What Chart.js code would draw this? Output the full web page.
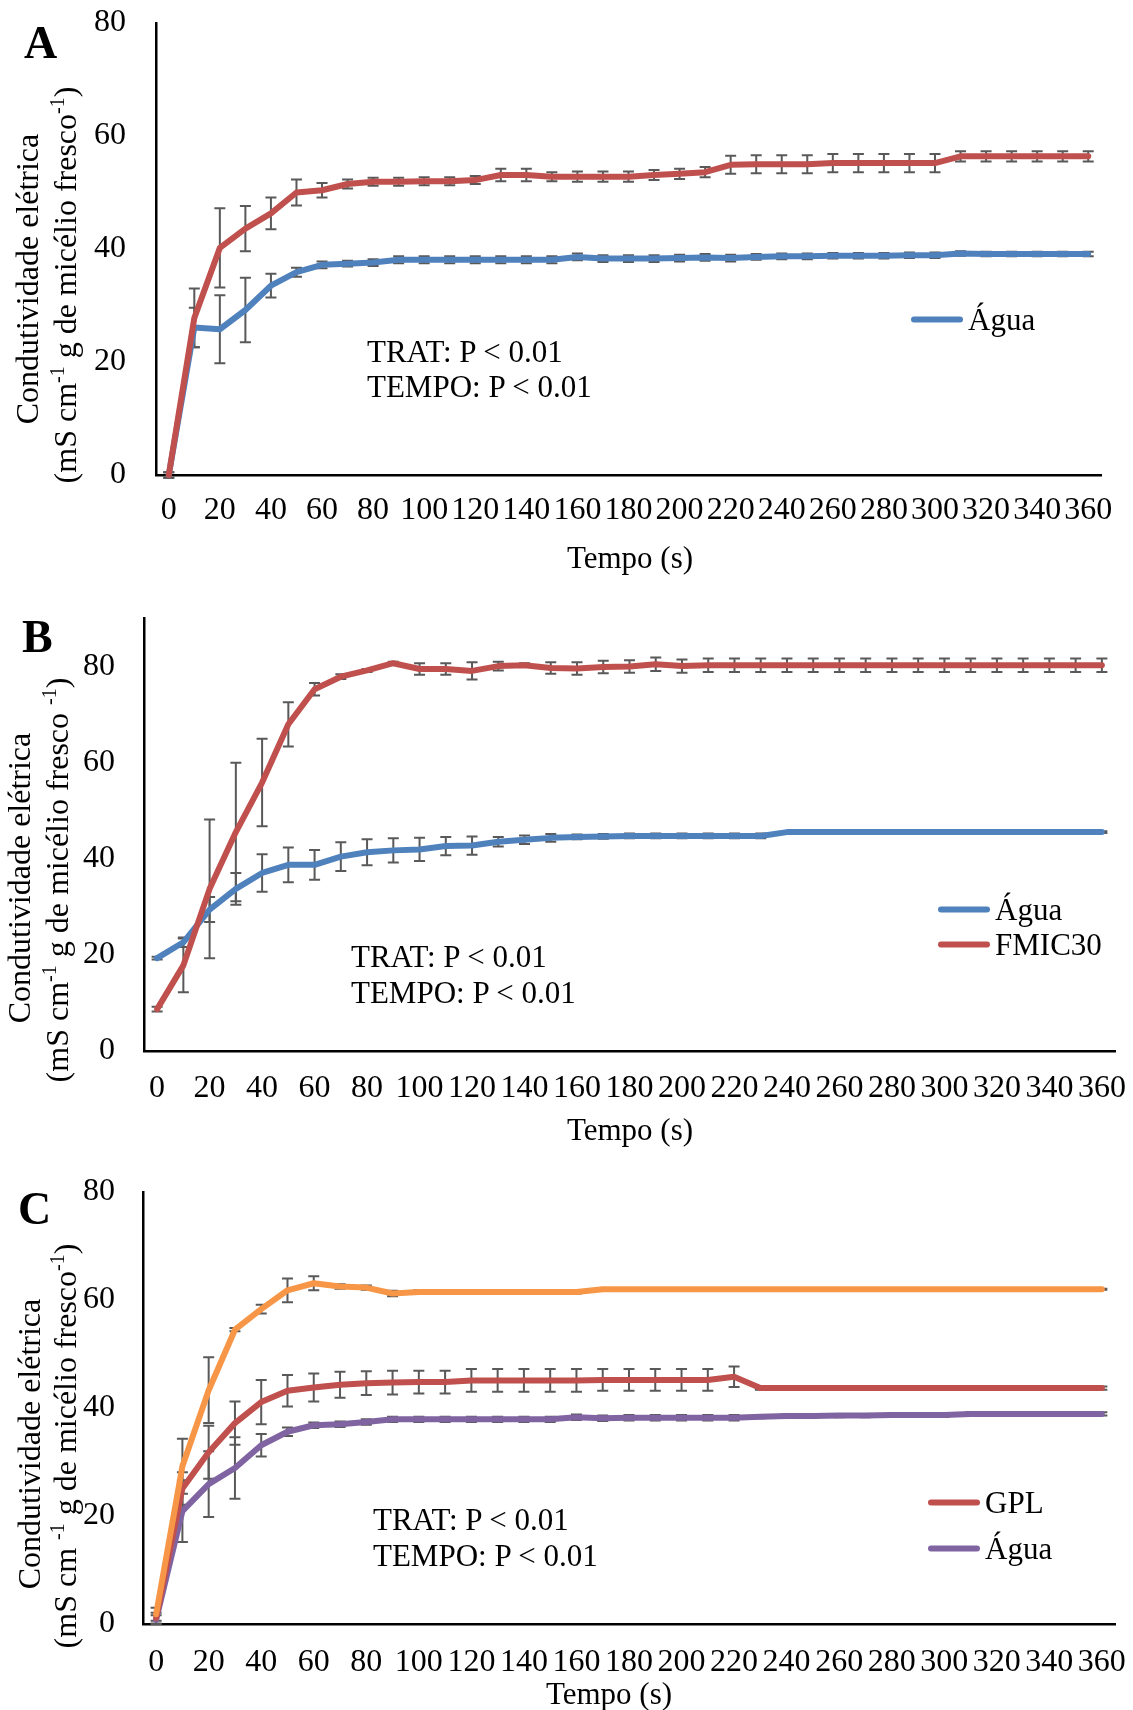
<!DOCTYPE html>
<html lang="pt">
<head>
<meta charset="utf-8">
<title>Condutividade elétrica</title>
<script src="https://cdn.jsdelivr.net/npm/chart.js@4.4.0/dist/chart.umd.min.js"></script>
<style>
  body { margin: 0; background: #fff; font-family: "Liberation Serif", "Times New Roman", serif; color: #000; }
  #pagina { position: relative; width: 1133px; height: 1710px; overflow: hidden; }
  canvas { position: absolute; left: 0; }
  .txt { position: absolute; white-space: nowrap; font-size: 31px; line-height: 1; }
  .letra { position: absolute; font-weight: bold; font-size: 46px; line-height: 1; }
  .yt { position: absolute; white-space: nowrap; font-size: 32px; line-height: 1; transform: translate(-50%, -50%) rotate(-90deg); }
  .xt { position: absolute; white-space: nowrap; font-size: 31px; line-height: 1; transform: translate(-50%, -50%); }
  .leg { position: absolute; display: flex; align-items: center; font-size: 31px; line-height: 1; white-space: nowrap; transform: translateY(-50%); }
  .leg span { display: inline-block; width: 52px; height: 6px; border-radius: 3px; margin-right: 5px; }
  sup { font-size: 20px; line-height: 0; vertical-align: 0; position: relative; top: -12px; }
</style>
</head>
<body>
<div id="pagina">
  <canvas id="graficoA" width="1133" height="580" style="top:0px"></canvas>
  <canvas id="graficoB" width="1133" height="580" style="top:580px"></canvas>
  <canvas id="graficoC" width="1133" height="550" style="top:1160px"></canvas>

  <!-- A -->
  <div class="letra" style="left:24px; top:20px">A</div>
  <div class="yt" style="left:27px; top:279px">Condutividade elétrica</div>
  <div class="yt" style="left:65px; top:285px">(mS cm<sup>-1</sup> g de micélio fresco<sup>-1</sup>)</div>
  <div class="xt" style="left:630px; top:557px">Tempo (s)</div>
  <div class="txt" style="left:367px; top:336px">TRAT: P &lt; 0.01</div>
  <div class="txt" style="left:367px; top:371px">TEMPO: P &lt; 0.01</div>
  <div class="leg" style="left:911px; top:319px"><span style="background:#4F81BD"></span>Água</div>

  <!-- B -->
  <div class="letra" style="left:22px; top:614px">B</div>
  <div class="yt" style="left:19px; top:878px">Condutividade elétrica</div>
  <div class="yt" style="left:57px; top:880px">(mS cm<sup>-1</sup> g de micélio fresco <sup>-1</sup>)</div>
  <div class="xt" style="left:630px; top:1129px">Tempo (s)</div>
  <div class="txt" style="left:351px; top:941px">TRAT: P &lt; 0.01</div>
  <div class="txt" style="left:351px; top:977px">TEMPO: P &lt; 0.01</div>
  <div class="leg" style="left:938px; top:909px"><span style="background:#4F81BD"></span>Água</div>
  <div class="leg" style="left:938px; top:944px"><span style="background:#C0504D"></span>FMIC30</div>

  <!-- C -->
  <div class="letra" style="left:18px; top:1186px">C</div>
  <div class="yt" style="left:29px; top:1444px">Condutividade elétrica</div>
  <div class="yt" style="left:65px; top:1446px">(mS cm <sup>-1</sup> g de micélio fresco<sup>-1</sup>)</div>
  <div class="xt" style="left:609px; top:1693px">Tempo (s)</div>
  <div class="txt" style="left:373px; top:1504px">TRAT: P &lt; 0.01</div>
  <div class="txt" style="left:373px; top:1540px">TEMPO: P &lt; 0.01</div>
  <div class="leg" style="left:928px; top:1502px"><span style="background:#C0504D"></span>GPL</div>
  <div class="leg" style="left:928px; top:1548px"><span style="background:#8064A2"></span>Água</div>
</div>

<script>
const tempo = [
  0, 10, 20, 30, 40, 50, 60, 70, 80, 90, 100, 110, 120, 130, 140, 150, 160, 170, 180,
  190, 200, 210, 220, 230, 240, 250, 260, 270, 280, 290, 300, 310, 320, 330, 340, 350, 360,
];

// Painel A
const aTrat = [
  0, 27.8, 40.2, 43.6, 46.3, 50.0, 50.4, 51.5, 51.9, 51.9, 52.0, 52.0, 52.2, 53.1, 53.1,
  52.8, 52.8, 52.8, 52.8, 53.1, 53.3, 53.6, 54.9, 55.0, 55.0, 55.0, 55.2, 55.2, 55.2, 55.2,
  55.2, 56.4, 56.4, 56.4, 56.4, 56.4, 56.4,
];
const aTratErro = [
  0.5, 5.2, 7.0, 4.0, 2.8, 2.3, 1.3, 0.8, 0.7, 0.7, 0.7, 0.7, 0.7, 1.1, 1.1, 0.8, 0.9, 0.9,
  0.9, 0.9, 0.9, 0.9, 1.6, 1.6, 1.6, 1.6, 1.6, 1.6, 1.6, 1.6, 1.6, 0.9, 0.9, 0.9, 0.9, 0.9, 0.9,
];
const aAgua = [
  0, 26.1, 25.8, 29.2, 33.5, 35.9, 37.2, 37.4, 37.6, 38.1, 38.1, 38.1, 38.1, 38.1, 38.1,
  38.1, 38.6, 38.3, 38.3, 38.3, 38.4, 38.5, 38.4, 38.6, 38.7, 38.7, 38.8, 38.8, 38.8, 38.9,
  38.9, 39.2, 39.1, 39.1, 39.1, 39.1, 39.1,
];
const aAguaErro = [
  0.5, 3.5, 6.0, 5.7, 2.1, 0.8, 0.6, 0.5, 0.6, 0.6, 0.6, 0.6, 0.6, 0.6, 0.6, 0.6, 0.6, 0.6,
  0.6, 0.6, 0.6, 0.6, 0.6, 0.5, 0.5, 0.5, 0.5, 0.5, 0.5, 0.5, 0.5, 0.4, 0.4, 0.4, 0.4, 0.4, 0.4,
];

// Painel B
const bAgua = [
  19.3, 22.6, 29.4, 33.7, 37.0, 38.7, 38.7, 40.4, 41.3, 41.7, 41.9, 42.6, 42.7, 43.5, 43.9,
  44.3, 44.5, 44.6, 44.7, 44.7, 44.7, 44.7, 44.7, 44.7, 45.5, 45.5, 45.5, 45.5, 45.5, 45.5,
  45.5, 45.5, 45.5, 45.5, 45.5, 45.5, 45.5,
];
const bAguaErro = [
  0.3, 1.0, 2.6, 3.3, 3.9, 3.6, 3.1, 3.0, 2.7, 2.5, 2.4, 1.9, 1.9, 1.0, 0.9, 0.8, 0.5, 0.5,
  0.5, 0.5, 0.5, 0.5, 0.5, 0.5, 0.2, 0.2, 0.2, 0.2, 0.2, 0.2, 0.2, 0.2, 0.2, 0.2, 0.2, 0.2, 0.2,
];
const bFmic30 = [
  8.7, 17.8, 33.7, 45.5, 55.8, 67.9, 75.2, 77.8, 79.1, 80.6, 79.4, 79.4, 79.0, 80.0, 80.2,
  79.6, 79.5, 79.8, 79.9, 80.4, 80.0, 80.2, 80.2, 80.2, 80.2, 80.2, 80.2, 80.2, 80.2, 80.2,
  80.2, 80.2, 80.2, 80.2, 80.2, 80.2, 80.2,
];
const bFmic30Erro = [
  0.5, 5.6, 14.4, 14.4, 9.1, 4.6, 1.3, 0.5, 0.3, 0.3, 1.2, 1.2, 1.8, 0.9, 0.4, 1.2, 1.3, 1.3,
  1.3, 1.4, 1.4, 1.4, 1.4, 1.4, 1.4, 1.4, 1.4, 1.4, 1.4, 1.4, 1.4, 1.4, 1.4, 1.4, 1.4, 1.4, 1.4,
];

// Painel C
const cLaranja = [
  1.8, 29.2, 43.3, 54.5, 58.3, 61.8, 63.1, 62.5, 62.3, 61.2, 61.5, 61.5, 61.5, 61.5, 61.5,
  61.5, 61.5, 62.0, 62.0, 62.0, 62.0, 62.0, 62.0, 62.0, 62.0, 62.0, 62.0, 62.0, 62.0, 62.0,
  62.0, 62.0, 62.0, 62.0, 62.0, 62.0, 62.0,
];
const cLaranjaErro = [
  1.2, 5.1, 6.1, 0.3, 0.8, 2.2, 1.3, 0.4, 0.4, 0.5, 0.3, 0.3, 0.3, 0.3, 0.3, 0.3, 0.3, 0.1,
  0.1, 0.1, 0.1, 0.1, 0.1, 0.1, 0.1, 0.1, 0.1, 0.1, 0.1, 0.1, 0.1, 0.1, 0.1, 0.1, 0.1, 0.1, 0.1,
];
const cGpl = [
  1.1, 25.1, 31.8, 37.2, 41.1, 43.2, 43.8, 44.3, 44.6, 44.7, 44.8, 44.8, 45.1, 45.1, 45.1,
  45.1, 45.1, 45.2, 45.2, 45.2, 45.2, 45.2, 45.8, 43.7, 43.7, 43.7, 43.7, 43.7, 43.7, 43.7,
  43.7, 43.7, 43.7, 43.7, 43.7, 43.7, 43.7,
];
const cGplErro = [
  1.0, 3.0, 4.9, 4.0, 4.1, 2.9, 2.6, 2.4, 2.2, 2.2, 2.1, 2.1, 2.1, 2.1, 2.1, 2.1, 2.1, 2.0,
  2.0, 2.0, 2.0, 2.0, 1.9, 0.3, 0.3, 0.3, 0.3, 0.3, 0.3, 0.3, 0.3, 0.3, 0.3, 0.3, 0.3, 0.3, 0.3,
];
const cAgua = [
  0.8, 20.9, 25.9, 28.9, 33.1, 35.6, 36.8, 37.0, 37.4, 37.9, 37.9, 37.9, 37.9, 37.9, 37.9,
  37.9, 38.3, 38.1, 38.2, 38.2, 38.2, 38.2, 38.2, 38.4, 38.5, 38.5, 38.6, 38.6, 38.7, 38.7,
  38.7, 38.9, 38.9, 38.9, 38.9, 38.9, 38.9,
];
const cAguaErro = [
  0.8, 5.7, 6.1, 5.7, 2.1, 0.8, 0.5, 0.5, 0.5, 0.5, 0.5, 0.5, 0.5, 0.5, 0.5, 0.5, 0.5, 0.5,
  0.5, 0.5, 0.5, 0.5, 0.5, 0.3, 0.3, 0.3, 0.3, 0.3, 0.3, 0.3, 0.3, 0.3, 0.3, 0.3, 0.3, 0.3, 0.3,
];

const azul = "#4F81BD";
const vermelho = "#C0504D";
const laranja = "#F79646";
const roxo = "#8064A2";

Chart.defaults.font.family = '"Liberation Serif", "Times New Roman", serif';
Chart.defaults.color = "#000";

// barras de erro desenhadas antes das linhas (a linha cobre o traço vertical)
const barrasErro = {
  id: "barrasErro",
  beforeDatasetsDraw(chart) {
    const ctx = chart.ctx;
    const y = chart.scales.y;
    ctx.save();
    ctx.strokeStyle = "#595959";
    ctx.lineWidth = 2;
    chart.data.datasets.forEach((ds, i) => {
      const meta = chart.getDatasetMeta(i);
      meta.data.forEach((pt, j) => {
        const e = ds.erros[j];
        if (!e) return;
        const topo = y.getPixelForValue(ds.data[j] + e);
        const base = y.getPixelForValue(ds.data[j] - e);
        ctx.beginPath();
        ctx.moveTo(pt.x, topo);
        ctx.lineTo(pt.x, base);
        ctx.moveTo(pt.x - 5.5, topo);
        ctx.lineTo(pt.x + 5.5, topo);
        ctx.moveTo(pt.x - 5.5, base);
        ctx.lineTo(pt.x + 5.5, base);
        ctx.stroke();
      });
    });
    ctx.restore();
  },
};

function serie(label, data, erros, cor) {
  return {
    label: label,
    data: data,
    erros: erros,
    borderColor: cor,
    backgroundColor: cor,
    borderWidth: 6,
    pointRadius: 0,
    pointHoverRadius: 0,
    tension: 0,
    fill: false,
    borderJoinStyle: "round",
    borderCapStyle: "round",
    clip: false,
  };
}

function painel(id, datasets, yMax, caixa) {
  const ctx = document.getElementById(id).getContext("2d");
  return new Chart(ctx, {
    type: "line",
    data: { labels: tempo, datasets: datasets },
    options: {
      responsive: false,
      animation: false,
      events: [],
      layout: { padding: { top: caixa.top, right: caixa.right, left: 0, bottom: 0 } },
      plugins: { legend: { display: false }, tooltip: { enabled: false } },
      scales: {
        x: {
          type: "category",
          offset: true,
          grid: { display: false, drawTicks: false },
          border: { display: true, color: "#000", width: 2.5 },
          ticks: {
            autoSkip: false,
            maxRotation: 0,
            minRotation: 0,
            padding: caixa.xPad,
            font: { size: 32 },
            callback: function (v, i) {
              return i % 2 === 0 ? String(this.getLabelForValue(v)) : "";
            },
          },
          afterFit: (s) => {
            s.height = caixa.xH;
            s.paddingLeft = 0;
            s.paddingRight = 0;
          },
        },
        y: {
          min: 0,
          max: yMax,
          grid: { display: false, drawTicks: false },
          border: { display: true, color: "#000", width: 2.5 },
          ticks: { stepSize: 20, includeBounds: false, padding: caixa.yPad, font: { size: 32 } },
          afterFit: (s) => {
            s.width = caixa.yW;
            s.paddingTop = 0;
            s.paddingBottom = 0;
          },
        },
      },
    },
    plugins: [barrasErro],
  });
}

painel(
  "graficoA",
  [serie("Tratamento", aTrat, aTratErro, vermelho), serie("Água", aAgua, aAguaErro, azul)],
  80,
  { top: 23, right: 32, xH: 105, yW: 156, xPad: 16, yPad: 30 }
);

painel(
  "graficoB",
  [serie("FMIC30", bFmic30, bFmic30Erro, vermelho), serie("Água", bAgua, bAguaErro, azul)],
  90,
  { top: 38, right: 18, xH: 109, yW: 144, xPad: 18, yPad: 29 }
);

painel(
  "graficoC",
  [
    serie("Tratamento", cLaranja, cLaranjaErro, laranja),
    serie("GPL", cGpl, cGplErro, vermelho),
    serie("Água", cAgua, cAguaErro, roxo),
  ],
  80,
  { top: 32, right: 18, xH: 86, yW: 143, xPad: 19, yPad: 28 }
);
</script>
</body>
</html>
